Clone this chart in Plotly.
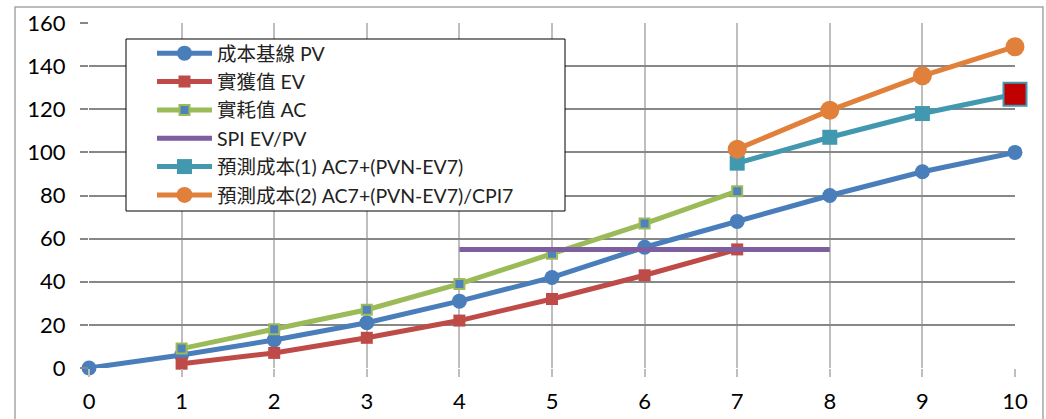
import plotly.graph_objects as go

# Reporting periods
periods = [0, 1, 2, 3, 4, 5, 6, 7, 8, 9, 10]

# Earned-value series
pv = [0, 6, 13, 21, 31, 42, 56, 68, 80, 91, 100]          # 成本基線 PV
ev_x = [1, 2, 3, 4, 5, 6, 7]
ev = [2, 7, 14, 22, 32, 43, 55]                           # 實獲值 EV
ac_x = [1, 2, 3, 4, 5, 6, 7]
ac = [9, 18, 27, 39, 53, 67, 82]                          # 實耗值 AC
spi_x = [4, 5, 6, 7, 8]
spi = [55, 55, 55, 55, 55]                                # SPI EV/PV
fc_x = [7, 8, 9, 10]
fc1 = [95, 107, 118, 127]                                 # 預測成本(1)
fc2 = [101.5, 119.5, 135.5, 149]                          # 預測成本(2)

names = ["成本基線 PV", "實獲值 EV", "實耗值 AC", "SPI EV/PV",
         "預測成本(1) AC7+(PVN-EV7)", "預測成本(2) AC7+(PVN-EV7)/CPI7"]

BLUE = "#4a7ebb"
RED = "#be4b48"
GREEN = "#9bbb59"
PURPLE = "#7d5fa0"
TEAL = "#4198af"
ORANGE = "#e0803a"

FONT = "Lato, 'Noto Sans CJK TC', sans-serif"

fig = go.Figure()

fig.add_trace(go.Scatter(
    x=periods, y=pv, name=names[0], mode="lines+markers", legendgroup="a",
    line=dict(color=BLUE, width=5), cliponaxis=False,
    marker=dict(symbol="circle", size=15, color=BLUE)))
fig.add_trace(go.Scatter(
    x=ev_x, y=ev, name=names[1], mode="lines+markers", legendgroup="b",
    line=dict(color=RED, width=5), cliponaxis=False,
    marker=dict(symbol="square", size=12, color=RED)))
fig.add_trace(go.Scatter(
    x=ac_x, y=ac, name=names[2], mode="lines+markers", legendgroup="c",
    line=dict(color=GREEN, width=5), cliponaxis=False,
    marker=dict(symbol="square", size=10, color="#4f81bd",
                line=dict(color=GREEN, width=2))))
fig.add_trace(go.Scatter(
    x=spi_x, y=spi, name=names[3], mode="lines", legendgroup="d",
    line=dict(color=PURPLE, width=5), cliponaxis=False))
fig.add_trace(go.Scatter(
    x=fc_x, y=fc1, name=names[4], mode="lines+markers", legendgroup="e",
    line=dict(color=TEAL, width=5), cliponaxis=False,
    marker=dict(symbol="square", size=15, color=TEAL)))
fig.add_trace(go.Scatter(
    x=fc_x, y=fc2, name=names[5], mode="lines+markers", legendgroup="f",
    line=dict(color=ORANGE, width=5), cliponaxis=False,
    marker=dict(symbol="circle", size=19, color=ORANGE)))
# highlighted final forecast point
fig.add_trace(go.Scatter(
    x=fc_x[-1:], y=fc1[-1:], mode="markers", showlegend=False,
    cliponaxis=False,
    marker=dict(symbol="square", size=23, color="#c00000",
                line=dict(color=TEAL, width=2))))

fig.update_layout(
    width=1046, height=419,
    margin=dict(l=89, r=31, t=23, b=51),
    paper_bgcolor="white", plot_bgcolor="white",
    font=dict(family=FONT, size=22, color="black"),
    showlegend=True,
    legend=dict(
        x=(158 - 89 - 6) / 926, y=(368 - 34) / 345, xanchor="left", yanchor="top",
        bgcolor="rgba(0,0,0,0)", borderwidth=0,
        font=dict(family=FONT, size=19.5, color="#222"),
        tracegroupgap=0, traceorder="grouped", itemwidth=55,
    ),
    xaxis=dict(
        range=[0, 10], tickvals=periods, showgrid=True,
        gridcolor="#bebebe", gridwidth=1.5,
        zeroline=False, showline=False, automargin=False,
        ticks="outside", ticklen=8, tickcolor="#bebebe", tickwidth=1.5,
        ticklabelstandoff=6,
        tickfont=dict(family=FONT, size=22),
    ),
    yaxis=dict(
        range=[0, 160], dtick=20, showgrid=True,
        gridcolor="#878787", gridwidth=1.5,
        zeroline=False, showline=False, automargin=False,
        ticks="outside", ticklen=8, tickcolor="#878787", tickwidth=1.5,
        ticklabelstandoff=10,
        tickfont=dict(family=FONT, size=22),
    ),
)

# legend box
fig.add_shape(type="rect", xref="paper", yref="paper",
              x0=(126 - 89) / 926, x1=(565 - 89) / 926,
              y0=(368 - 211) / 345, y1=(368 - 39) / 345,
              fillcolor="white", line=dict(color="black", width=1),
              layer="above")

# outer chart frame
fig.add_shape(type="rect", xref="paper", yref="paper",
              x0=-0.0799, x1=1.0302, y0=-0.2, y1=1.0464,
              line=dict(color="#a6a6a6", width=1.5), layer="below")

fig.write_html("out.html")
